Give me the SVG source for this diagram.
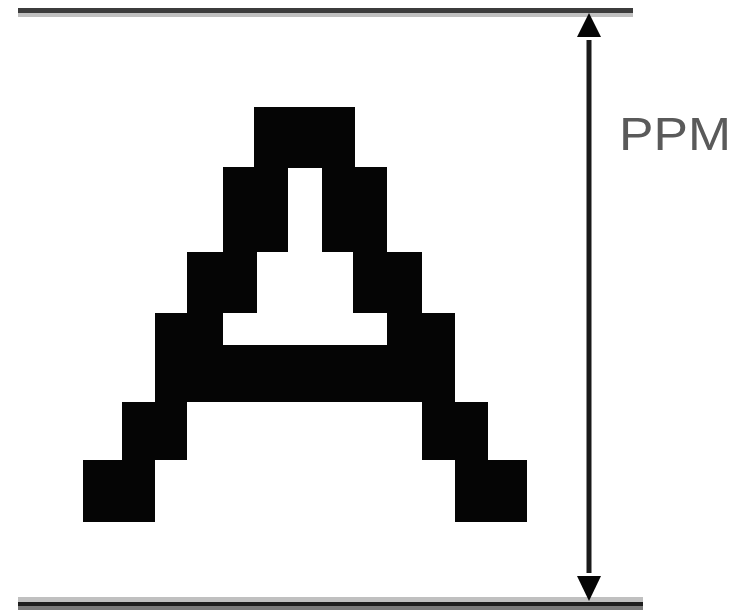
<svg xmlns="http://www.w3.org/2000/svg" width="739" height="610" viewBox="0 0 739 610">
  <style>
    .glyph { fill: #050505; fill-rule: evenodd; }
    .rule-dark { fill: #3c3c3c; }
    .rule-light { fill: #c0c0c0; }
    .dim { stroke: #1a1a1a; stroke-width: 5; fill: none; }
    .label { font-family: "Liberation Sans", Arial, sans-serif; font-size: 46px; fill: #5a5a5a; }
  </style>
  <defs>
    <marker id="head" viewBox="0 0 10 10" refX="9" refY="5" markerWidth="5" markerHeight="5" markerUnits="strokeWidth" orient="auto-start-reverse">
      <path d="M0,0 L10,5 L0,10 Z" fill="#050505"/>
    </marker>
  </defs>
  <rect width="739" height="610" fill="#ffffff"/>
  <g id="top-rule">
    <rect class="rule-dark" x="18" y="8" width="615" height="5"/>
    <rect class="rule-light" x="18" y="13" width="615" height="4"/>
  </g>
  <g id="bottom-rule">
    <rect class="rule-light" x="18" y="597" width="625" height="5"/>
    <rect x="18" y="602" width="625" height="4" fill="#1e1e1e"/>
    <rect x="18" y="606" width="625" height="4" fill="#7a7a7a"/>
  </g>
  <g id="letter-a">
    <path class="glyph" d="M254,107 L355,107 L355,167 L387,167 L387,252 L422,252 L422,313 L455,313 L455,402 L488,402 L488,460 L527,460 L527,522 L455,522 L455,460 L422,460 L422,402 L187,402 L187,460 L155,460 L155,522 L83,522 L83,460 L122,460 L122,402 L155,402 L155,313 L187,313 L187,252 L223,252 L223,167 L254,167 Z M288,168 L322,168 L322,252 L353,252 L353,313 L387,313 L387,345 L223,345 L223,313 L257,313 L257,252 L288,252 Z"/>
  </g>
  <g id="connectors">
    <line class="dim" x1="589" y1="40" x2="589" y2="573"/>
    <path d="M589,13 L601,37 L577,37 Z" fill="#050505"/>
    <path d="M589,601 L601,576 L577,576 Z" fill="#050505"/>
  </g>
  <g id="label-ppm">
    <text class="label" x="619" y="150" textLength="112" lengthAdjust="spacingAndGlyphs">PPM</text>
  </g>
</svg>
